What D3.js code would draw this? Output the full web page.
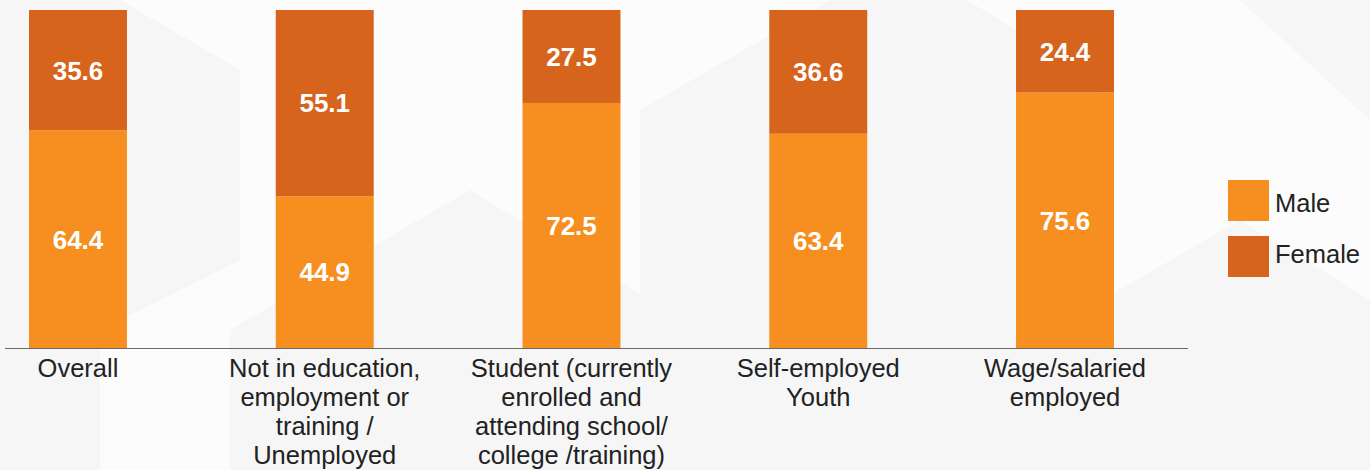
<!DOCTYPE html>
<html><head><meta charset="utf-8">
<script src="https://cdn.jsdelivr.net/npm/d3@7"></script>
<style>
html,body{margin:0;padding:0;background:#fcfcfc;}
svg{display:block;font-family:"Liberation Sans",Arial,Helvetica,sans-serif;}
</style></head>
<body>
<svg id="chart" width="1370" height="470"></svg>
<script>
const categories = [
  ["Overall"],
  ["Not in education,", "employment or", "training /", "Unemployed"],
  ["Student (currently", "enrolled and", "attending school/", "college /training)"],
  ["Self-employed", "Youth"],
  ["Wage/salaried", "employed"]
];
const categoryKeys = ["Overall", "NEET", "Student", "Self-employed", "Wage"];
const maleValues = [64.4, 44.9, 72.5, 63.4, 75.6];
const femaleValues = [35.6, 55.1, 27.5, 36.6, 24.4];
const seriesNames = ["Male", "Female"];
const seriesColors = ["#F68F1F", "#D6641C"];

const svg = d3.select("#chart");
const W = 1370, H = 470;

// faint hexagonal background
const bg = svg.append("g");
bg.append("rect").attr("width", W).attr("height", H).attr("fill", "#fcfcfc");
const hexes = [
  [[0,0],[120,0],[240,70],[240,260],[0,380]],
  [[230,330],[470,190],[700,330],[700,470],[230,470]],
  [[640,110],[900,-40],[1100,80],[1100,470],[640,470]],
  [[1050,330],[1240,220],[1370,300],[1370,470],[1050,470]],
  [[1240,0],[1370,0],[1370,120]],
  [[0,330],[100,290],[100,470],[0,470]]
];
bg.selectAll("polygon").data(hexes).join("polygon")
  .attr("points", d => d.map(p => p.join(",")).join(" "))
  .attr("fill", "#f6f6f6");

const x = d3.scaleBand().domain(categoryKeys).range([29, 1114]).paddingInner(0.603).paddingOuter(0);
const y = d3.scaleLinear().domain([0, 100]).range([348, 10]);

const rows = categoryKeys.map((k, i) => ({key: k, Male: maleValues[i], Female: femaleValues[i]}));
const stacked = d3.stack().keys(seriesNames)(rows);

const g = svg.append("g");
stacked.forEach((layer, si) => {
  g.append("g").selectAll("rect").data(layer).join("rect")
    .attr("x", d => x(d.data.key))
    .attr("width", x.bandwidth())
    .attr("y", d => y(d[1]))
    .attr("height", d => y(d[0]) - y(d[1]))
    .attr("fill", seriesColors[si]);
  g.append("g").selectAll("text").data(layer).join("text")
    .attr("x", d => x(d.data.key) + x.bandwidth() / 2)
    .attr("y", d => (y(d[0]) + y(d[1])) / 2)
    .attr("dy", "0.36em")
    .attr("text-anchor", "middle")
    .attr("fill", "#fff")
    .attr("font-weight", "bold")
    .attr("font-size", 26)
    .text(d => (d[1] - d[0]).toFixed(1));
});

// axis baseline
svg.append("line").attr("x1", 5).attr("x2", 1188).attr("y1", 348.5).attr("y2", 348.5)
  .attr("stroke", "#6a6a6a").attr("stroke-width", 1.2);

// category labels
const lab = svg.append("g");
categoryKeys.forEach((k, i) => {
  const cx = x(k) + x.bandwidth() / 2;
  const t = lab.append("text")
    .attr("x", cx)
    .attr("y", 377)
    .attr("text-anchor", "middle")
    .attr("fill", "#222")
    .attr("font-size", 25.5);
  categories[i].forEach((line, j) => {
    t.append("tspan").attr("x", cx).attr("y", 377 + j * 29).text(line);
  });
});

// legend
const leg = svg.append("g");
seriesNames.forEach((s, i) => {
  leg.append("rect").attr("x", 1228).attr("y", 180 + i * 56).attr("width", 41).attr("height", 41).attr("fill", seriesColors[i]);
  leg.append("text").attr("x", 1275).attr("y", 203 + i * 51).attr("dy", "0.35em")
    .attr("font-size", 25.5).attr("fill", "#222").text(s);
});
</script>
</body></html>
